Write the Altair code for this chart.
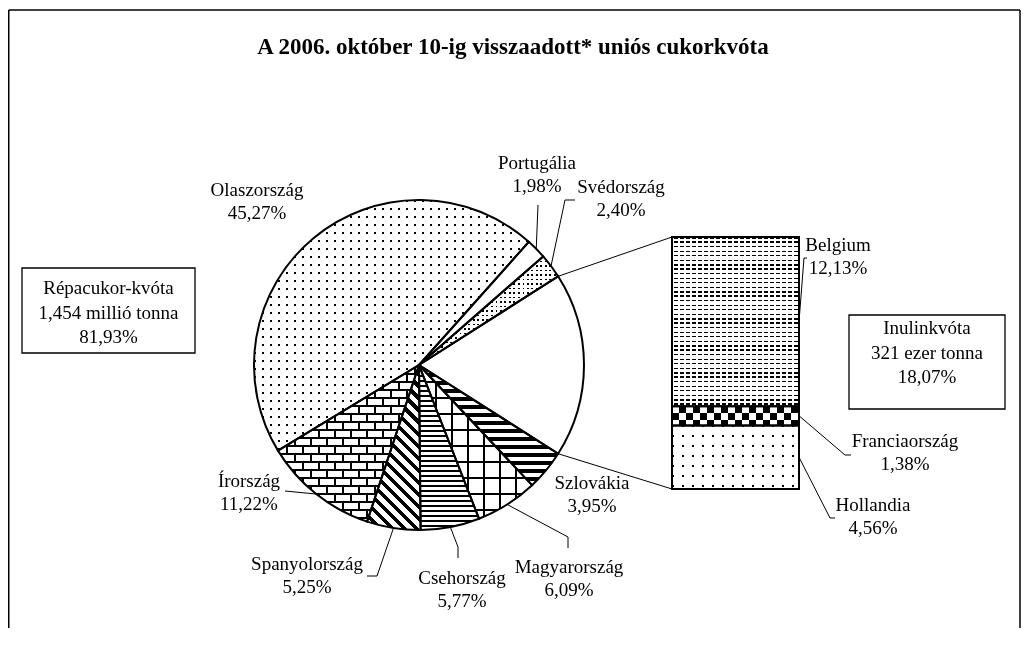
import math
import altair as alt
import pandas as pd

# ---------------- data ----------------
title_text = "A 2006. október 10-ig visszaadott* uniós cukorkvóta"
# pie slices, clockwise from the lower edge of the "other" (inulin) slice
pie_names = ["Szlovákia", "Magyarország", "Csehország", "Spanyolország",
             "Írország", "Olaszország", "Portugália", "Svédország"]
pie_values = [3.95, 6.09, 5.77, 5.25, 11.22, 45.27, 1.98, 2.40]
# bar of the "other" slice, top to bottom
bar_names = ["Belgium", "Franciaország", "Hollandia"]
bar_values = [12.13, 1.38, 4.56]
beet_lines = ["Répacukor-kvóta", "1,454 millió tonna"]
inulin_lines = ["Inulinkvóta", "321 ezer tonna"]


def fmt(v):
    return f"{v:.2f}".replace(".", ",") + "%"


# ---------------- layout (pixels, chart coordinates) ----------------
OFF = 8
W, H = 1013, 620
CX, CY, R = 419 - OFF, 365 - OFF, 165
BX0, BX1, BTOP, BBOT = 672 - OFF, 799 - OFF, 237 - OFF, 489 - OFF
FONT = "Liberation Serif"
FS = 19
LH = 23

label_pos = {  # centre of first line (page coords)
    "Olaszország": (257, 190), "Portugália": (537, 163), "Svédország": (621, 187),
    "Szlovákia": (592, 483), "Magyarország": (569, 567), "Csehország": (462, 578),
    "Spanyolország": (307, 564), "Írország": (249, 481),
    "Belgium": (838, 245), "Franciaország": (905, 441), "Hollandia": (873, 505),
}
leader_elbows = {
    "Portugália": [(538, 205)],
    "Svédország": [(565, 200), (575, 200)],
    "Írország": [(285, 491)],
    "Spanyolország": [(377, 576), (367, 576)],
    "Csehország": [(458, 547), (458, 558)],
    "Magyarország": [(568, 537), (568, 548)],
    "Belgium": [(804, 258), (807, 258)],
    "Franciaország": [(845, 455), (851, 455)],
    "Hollandia": [(830, 518), (835, 518)],
}
box_beet = (22, 268, 195, 353)
box_inulin = (849, 315, 1005, 409)

BLACK, WHITE, CLR = "#000000", "#ffffff", "rgba(255,255,255,0)"
pie_patterns = {
    "Olaszország": [(0, 8, 2, BLACK, CLR), (90, 8, 2, CLR, WHITE)],
    "Svédország": [(0, 4.5, 1.6, BLACK, CLR), (90, 4.5, 1.6, CLR, WHITE)],
    # bricks: vertical joints, keep alternate rows, toggle half of the joints, mortar lines
    "Írország": [(0, 8, 2, BLACK, CLR), (90, 16, 8, CLR, WHITE),
                 (0, 16, 2, WHITE, CLR, "difference"), (90, 8, 2, BLACK, CLR)],
    "Spanyolország": [(-45, 8.5, 4, BLACK, CLR)],
    "Csehország": [(90, 5, 2, BLACK, CLR)],
    "Magyarország": [(90, 16, 2, BLACK, CLR), (0, 16, 2, BLACK, CLR)],
    "Szlovákia": [(90, 8, 4, BLACK, CLR)],
}
bar_patterns = {
    "Belgium": [(90, 4.5, 1.5, BLACK, CLR), (0, 6, 2, WHITE, CLR)],
    "Franciaország": [(0, 14, 7, BLACK, WHITE), (90, 14, 7, WHITE, CLR, "difference")],
    "Hollandia": [(0, 10, 2, BLACK, CLR), (90, 10, 2, CLR, WHITE)],
}

# ---------------- tables ----------------
other = sum(bar_values)
pie_df = pd.DataFrame({"name": pie_names + ["_other"], "value": pie_values + [other]})
pie_df["t1"] = pie_df["value"].cumsum()
pie_df["t0"] = pie_df["t1"] - pie_df["value"]
total = float(pie_df["value"].sum())
start_deg = 90 + other / total * 180


def ang(t):
    return start_deg + t / total * 360


theta_scale = alt.Scale(domain=[0, total],
                        range=[math.radians(start_deg), math.radians(start_deg) + 2 * math.pi])

bar_df = pd.DataFrame({"name": bar_names, "value": bar_values})
bar_df["b1"] = other - (bar_df["value"].cumsum() - bar_df["value"])
bar_df["b0"] = bar_df["b1"] - bar_df["value"]
y_scale = alt.Scale(domain=[0, other], range=[BBOT, BTOP], nice=False, zero=False)


def ypix(v):
    return BBOT + (BTOP - BBOT) * v / other


def circ(deg, r=R):
    a = math.radians(deg)
    return (CX + r * math.sin(a), CY - r * math.cos(a))


def arc_wh(a0, a1, r):
    pts = [(0.0, 0.0)]
    for a in (a0, a1):
        pts.append((r * math.sin(math.radians(a)), -r * math.cos(math.radians(a))))
    k = math.ceil(a0 / 90)
    while k * 90 < a1:
        a = math.radians(k * 90)
        pts.append((r * math.sin(a), -r * math.cos(a)))
        k += 1
    xs = [p[0] for p in pts]
    ys = [p[1] for p in pts]
    return max(xs) - min(xs), max(ys) - min(ys)


def stripe_grad(normal_deg, period, on, c_on, c_off, w, h):
    th = math.radians(normal_deg)
    nx, ny = math.cos(th), math.sin(th)
    nx = 0.0 if abs(nx) < 1e-9 else nx
    ny = 0.0 if abs(ny) < 1e-9 else ny
    L = abs(w * nx) + abs(h * ny)
    u1 = 0.0 if nx >= 0 else 1.0
    v1 = 0.0 if ny >= 0 else 1.0
    dx, dy = w * nx, h * ny
    k = L / (dx * dx + dy * dy)
    stops = []
    pos = 0.0
    while pos < L:
        a = round(pos / L, 5)
        b = round(min((pos + on) / L, 1.0), 5)
        c = round(min((pos + period) / L, 1.0), 5)
        stops += [{"offset": a, "color": c_on}, {"offset": b, "color": c_on},
                  {"offset": b, "color": c_off}, {"offset": c, "color": c_off}]
        pos += period
    return {"gradient": "linear", "x1": u1, "y1": v1,
            "x2": round(u1 + k * dx, 5), "y2": round(v1 + k * dy, 5), "stops": stops}


layers = []

# ---------------- pie ----------------
pie_enc = dict(theta=alt.Theta("t0:Q", scale=theta_scale), theta2="t1:Q",
               x=alt.value(CX), y=alt.value(CY))
layers.append(alt.Chart(pie_df).mark_arc(outerRadius=R, innerRadius=0, fill="white",
                                         strokeWidth=0).encode(**pie_enc))
for _, row in pie_df.iterrows():
    specs = pie_patterns.get(row["name"], [])
    w, h = arc_wh(ang(row["t0"]), ang(row["t1"]), R)
    for sp in specs:
        g = stripe_grad(sp[0], sp[1], sp[2], sp[3], sp[4], w, h)
        kw = dict(outerRadius=R, innerRadius=0, fill=g, strokeWidth=0)
        if len(sp) > 5:
            kw["blend"] = sp[5]
        layers.append(alt.Chart(pie_df).transform_filter(
            alt.datum.name == row["name"]).mark_arc(**kw).encode(**pie_enc))
layers.append(alt.Chart(pie_df).mark_arc(outerRadius=R, innerRadius=0, fillOpacity=0,
                                         stroke="black", strokeWidth=2).encode(**pie_enc))

# ---------------- bar ----------------
bar_enc = dict(x=alt.value(BX0), x2=alt.value(BX1),
               y=alt.Y("b0:Q", scale=y_scale, axis=None), y2="b1:Q")
layers.append(alt.Chart(bar_df).mark_rect(fill="white", strokeWidth=0).encode(**bar_enc))
for _, row in bar_df.iterrows():
    w = BX1 - BX0
    h = abs(ypix(row["b1"]) - ypix(row["b0"]))
    for sp in bar_patterns.get(row["name"], []):
        g = stripe_grad(sp[0], sp[1], sp[2], sp[3], sp[4], w, h)
        kw = dict(fill=g, strokeWidth=0)
        if len(sp) > 5:
            kw["blend"] = sp[5]
        layers.append(alt.Chart(bar_df).transform_filter(
            alt.datum.name == row["name"]).mark_rect(**kw).encode(**bar_enc))
layers.append(alt.Chart(bar_df).mark_rect(fillOpacity=0, stroke="black",
                                          strokeWidth=2).encode(**bar_enc))

# ---------------- leader & connector lines ----------------
seg_rows = []
for _, row in pie_df.iterrows():
    n = row["name"]
    if n in leader_elbows:
        pts = [circ(ang((row["t0"] + row["t1"]) / 2))]
        pts += [(x - OFF, y - OFF) for x, y in leader_elbows[n]]
        for k, (x, y) in enumerate(pts):
            seg_rows.append({"id": n, "k": k, "x": x, "y": y})
for _, row in bar_df.iterrows():
    n = row["name"]
    pts = [(BX1, ypix((row["b0"] + row["b1"]) / 2))]
    pts += [(x - OFF, y - OFF) for x, y in leader_elbows[n]]
    for k, (x, y) in enumerate(pts):
        seg_rows.append({"id": n, "k": k, "x": x, "y": y})
oth = pie_df[pie_df["name"] == "_other"].iloc[0]
for cid, (a, by) in {"c1": (ang(oth["t0"]), BTOP), "c2": (ang(oth["t1"]), BBOT)}.items():
    p = circ(a)
    seg_rows.append({"id": cid, "k": 0, "x": p[0], "y": p[1]})
    seg_rows.append({"id": cid, "k": 1, "x": BX0, "y": by})
seg_df = pd.DataFrame(seg_rows)
layers.append(alt.Chart(seg_df).mark_line(color="black", strokeWidth=1).encode(
    x=alt.X("x:Q", scale=None, axis=None), y=alt.Y("y:Q", scale=None, axis=None),
    detail="id:N", order="k:Q"))

# ---------------- boxes ----------------
for (x0, y0, x1, y1) in (box_beet, box_inulin):
    layers.append(alt.Chart(pd.DataFrame({"a": [0]})).mark_rect(
        fill="white", stroke="black", strokeWidth=1.3).encode(
        x=alt.value(x0 - OFF), x2=alt.value(x1 - OFF),
        y=alt.value(y0 - OFF), y2=alt.value(y1 - OFF)))

# ---------------- texts ----------------
txt_rows = []
values_all = dict(zip(pie_names, pie_values))
values_all.update(dict(zip(bar_names, bar_values)))
for n, (x, y) in label_pos.items():
    txt_rows.append({"t": n, "x": x - OFF, "y": y - OFF})
    txt_rows.append({"t": fmt(values_all[n]), "x": x - OFF, "y": y - OFF + LH})
bx = (box_beet[0] + box_beet[2]) / 2 - OFF
for i, t in enumerate(beet_lines + [fmt(sum(pie_values))]):
    txt_rows.append({"t": t, "x": bx, "y": 288 - OFF + i * 24.5})
ix = (box_inulin[0] + box_inulin[2]) / 2 - OFF
for i, t in enumerate(inulin_lines + [fmt(other)]):
    txt_rows.append({"t": t, "x": ix, "y": 328 - OFF + i * 24.5})
txt_df = pd.DataFrame(txt_rows)
layers.append(alt.Chart(txt_df).mark_text(font=FONT, fontSize=FS, color="black",
                                          align="center", baseline="middle").encode(
    x=alt.X("x:Q", scale=None, axis=None), y=alt.Y("y:Q", scale=None, axis=None), text="t:N"))

layers.append(alt.Chart(pd.DataFrame({"t": [title_text]})).mark_text(
    font=FONT, fontSize=23, fontWeight="bold", color="black", align="center",
    baseline="middle").encode(x=alt.value(513 - OFF), y=alt.value(47 - OFF), text="t:N"))

# ---------------- frame ----------------
one = pd.DataFrame({"a": [0]})
layers.append(alt.Chart(one).mark_rule(color="black", strokeWidth=1.5).encode(
    x=alt.value(0.75), x2=alt.value(1012), y=alt.value(2), y2=alt.value(2)))
layers.append(alt.Chart(one).mark_rule(color="black", strokeWidth=1.5).encode(
    x=alt.value(0.75), y=alt.value(2), y2=alt.value(H)))
layers.append(alt.Chart(one).mark_rule(color="black", strokeWidth=1.5).encode(
    x=alt.value(1012), y=alt.value(2), y2=alt.value(H)))

chart = alt.layer(*layers).properties(
    width=W, height=H, padding=0, autosize=alt.AutoSizeParams(type="none")
).resolve_scale(x="independent", y="independent").configure_view(strokeWidth=0)

chart.save("out.html", embed_options={"renderer": "svg", "actions": False})
